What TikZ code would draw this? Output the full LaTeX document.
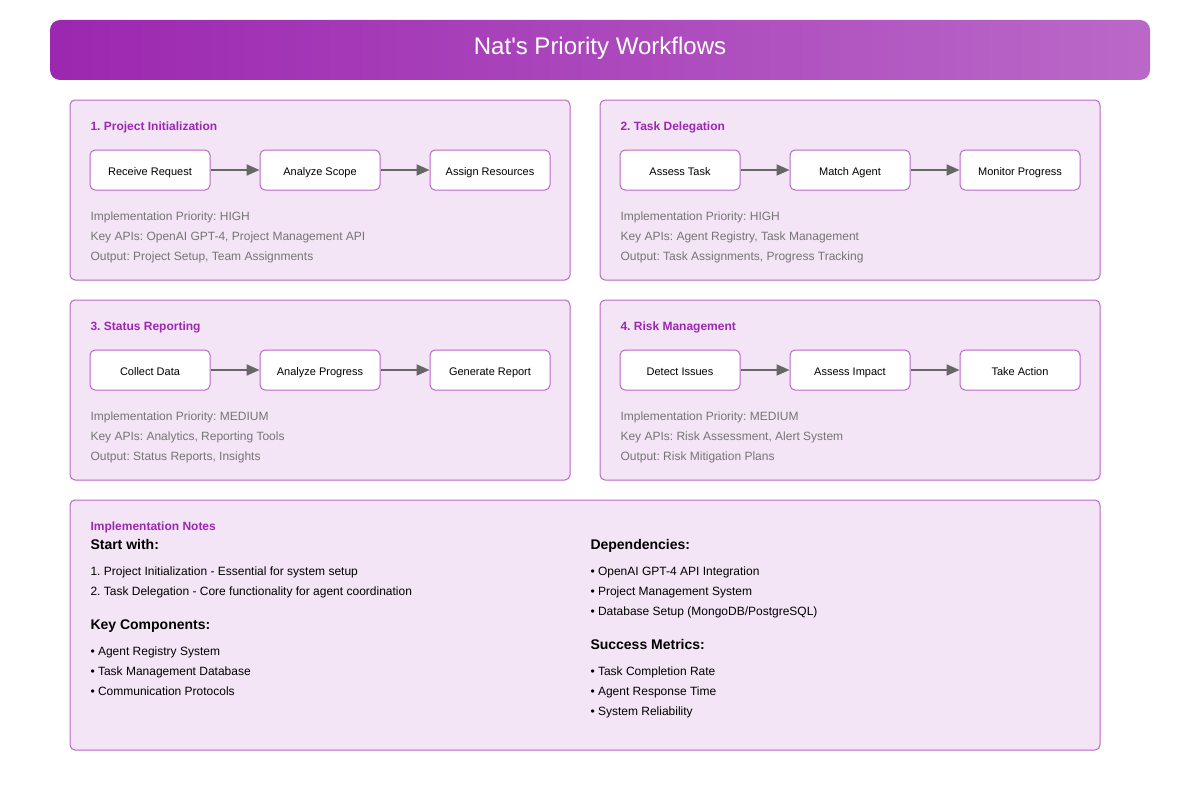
\documentclass[tikz,border=0pt]{standalone}
\usepackage{fontspec}
\setmainfont{Liberation Sans}
\usetikzlibrary{arrows.meta}
\frenchspacing

\definecolor{deeppurple}{HTML}{9C27B0}
\definecolor{lightpurple}{HTML}{BA68C8}
\definecolor{panelfill}{HTML}{F3E5F5}
\definecolor{notegray}{HTML}{757575}
\definecolor{arrowgray}{HTML}{666666}

\newcommand{\fs}[1]{\fontsize{#1}{#1}\selectfont}

\tikzset{every picture/.style={line width=1pt},
	panel/.style={draw=lightpurple, fill=panelfill, rounded corners=5pt},
	stepbox/.style={draw=lightpurple, fill=white, rounded corners=5pt, minimum width=120pt, minimum height=40pt, inner sep=0pt, text height=10pt, text depth=0pt, font=\fs{11}},
	heading/.style={anchor=base west, inner sep=0pt, text=deeppurple, font=\fs{12}\bfseries},
	info/.style={anchor=base west, inner sep=0pt, text=notegray, font=\fs{12}},
	subhead/.style={anchor=base west, inner sep=0pt, font=\fs{14}\bfseries},
	item/.style={anchor=base west, inner sep=0pt, font=\fs{12}},
	flow/.style={arrowgray, line width=2pt, -{Triangle[length=13pt,width=11pt]}}
}

\begin{document}
\begin{tikzpicture}[x=1pt, y=-1pt]
		\useasboundingbox (0,0) rectangle (1200,800);
		% title bar
		\shade[left color=deeppurple, right color=lightpurple, rounded corners=10pt] (50,20) rectangle (1150,80);
		\node (title) at (600,55) [anchor=base, inner sep=0pt, text=white, font=\fs{24}] {Nat\textquotesingle s Priority Workflows};

		% panels
		\draw[panel] (70,100) rectangle (570,280);
		\draw[panel] (600,100) rectangle (1100,280);
		\draw[panel] (70,300) rectangle (570,480);
		\draw[panel] (600,300) rectangle (1100,480);
		\draw[panel] (70,500) rectangle (1100,750);

		% 1. project initialization
		\node (h1) at (90,130) [heading] {1. Project Initialization};
		\node (recv) at (150,170) [stepbox] {Receive Request};
		\node (scope) at (320,170) [stepbox] {Analyze Scope};
		\node (assign) at (490,170) [stepbox] {Assign Resources};
		\draw[flow] (recv) -- (scope);
		\draw[flow] (scope) -- (assign);
		\node (p1) at (90,220) [info] {Implementation Priority: HIGH};
		\node (a1) at (90,240) [info] {Key APIs: OpenAI GPT-4, Project Management API};
		\node (o1) at (90,260) [info] {Output: Project Setup, Team Assignments};

		% 2. task delegation
		\node (h2) at (620,130) [heading] {2. Task Delegation};
		\node (assess) at (680,170) [stepbox] {Assess Task};
		\node (match) at (850,170) [stepbox] {Match Agent};
		\node (monitor) at (1020,170) [stepbox] {Monitor Progress};
		\draw[flow] (assess) -- (match);
		\draw[flow] (match) -- (monitor);
		\node (p2) at (620,220) [info] {Implementation Priority: HIGH};
		\node (a2) at (620,240) [info] {Key APIs: Agent Registry, Task Management};
		\node (o2) at (620,260) [info] {Output: Task Assignments, Progress Tracking};

		% 3. status reporting
		\node (h3) at (90,330) [heading] {3. Status Reporting};
		\node (collect) at (150,370) [stepbox] {Collect Data};
		\node (analyze) at (320,370) [stepbox] {Analyze Progress};
		\node (report) at (490,370) [stepbox] {Generate Report};
		\draw[flow] (collect) -- (analyze);
		\draw[flow] (analyze) -- (report);
		\node (p3) at (90,420) [info] {Implementation Priority: MEDIUM};
		\node (a3) at (90,440) [info] {Key APIs: Analytics, Reporting Tools};
		\node (o3) at (90,460) [info] {Output: Status Reports, Insights};

		% 4. risk management
		\node (h4) at (620,330) [heading] {4. Risk Management};
		\node (detect) at (680,370) [stepbox] {Detect Issues};
		\node (impact) at (850,370) [stepbox] {Assess Impact};
		\node (action) at (1020,370) [stepbox] {Take Action};
		\draw[flow] (detect) -- (impact);
		\draw[flow] (impact) -- (action);
		\node (p4) at (620,420) [info] {Implementation Priority: MEDIUM};
		\node (a4) at (620,440) [info] {Key APIs: Risk Assessment, Alert System};
		\node (o4) at (620,460) [info] {Output: Risk Mitigation Plans};

		% implementation notes
		\node (hn) at (90,530) [heading] {Implementation Notes};
		\node (start) at (90,549) [subhead] {Start with:};
		\node (s1) at (90,575) [item] {1. Project Initialization - Essential for system setup};
		\node (s2) at (90,595) [item] {2. Task Delegation - Core functionality for agent coordination};
		\node (comp) at (90,629) [subhead] {Key Components:};
		\node (c1) at (90,655) [item] {\textbullet{} Agent Registry System};
		\node (c2) at (90,675) [item] {\textbullet{} Task Management Database};
		\node (c3) at (90,695) [item] {\textbullet{} Communication Protocols};
		\node (deps) at (590,549) [subhead] {Dependencies:};
		\node (d1) at (590,575) [item] {\textbullet{} OpenAI GPT-4 API Integration};
		\node (d2) at (590,595) [item] {\textbullet{} Project Management System};
		\node (d3) at (590,615) [item] {\textbullet{} Database Setup (MongoDB/PostgreSQL)};
		\node (metrics) at (590,649) [subhead] {Success Metrics:};
		\node (m1) at (590,675) [item] {\textbullet{} Task Completion Rate};
		\node (m2) at (590,695) [item] {\textbullet{} Agent Response Time};
		\node (m3) at (590,715) [item] {\textbullet{} System Reliability};
	\end{tikzpicture}
\end{document}
